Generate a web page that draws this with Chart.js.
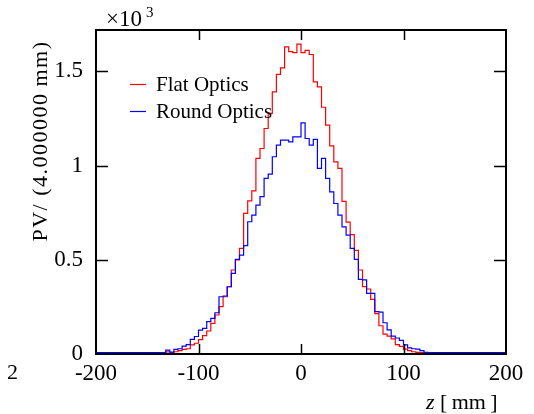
<!DOCTYPE html>
<html><head><meta charset="utf-8">
<script src="https://cdn.jsdelivr.net/npm/chart.js@4"></script>
<style>html,body{margin:0;padding:0;background:#fff}#c{display:block}</style>
</head><body>
<canvas id="c" width="534" height="414"></canvas>
<script>
// Histogram binning (mm)
const binLow = -200;
const binWidth = 4;
// Counts per 4 mm bin, from z = -200 to z = 196 (bin low edges)
const flatOptics = [
  7,7,7,7,7,7,7,7,7,7,7,7,7,7,7,7,7,7,
  11,8,12,18,25,28,48,57,76,98,122,163,207,251,304,357,446,499,561,746,813,866,
  1038,1091,1197,1277,1392,1484,1519,1630,1605,1600,
  1645,1600,1612,1590,1445,1418,1310,1215,1105,1020,985,810,700,634,550,446,
  358,345,290,214,150,105,95,80,50,40,26,18,12,9,7,
  7,7,7,7,7,7,7,7,7,7,7,7,7,7,7,7,7,7,7
];
const roundOptics = [
  7,7,7,7,7,7,7,7,7,7,7,7,7,7,7,7,7,7,
  21,10,25,28,42,50,78,93,127,136,172,189,219,304,308,357,428,502,525,575,702,737,
  790,835,932,955,1047,1109,1135,1135,1126,1153,
  1153,1227,1144,1109,1139,985,1038,932,861,799,737,675,631,561,502,396,
  393,322,322,225,222,166,128,95,85,72,48,32,28,26,18,9,
  7,7,7,7,7,7,7,7,7,7,7,7,7,7,7,7,7,7
];
const seriesNames = ['Flat Optics', 'Round Optics'];
const xTickValues = [-200, -100, 0, 100, 200];
const yTickValues = [0, 500, 1000, 1500];
const yMax = 1720;

function toSteps(vals) {
  const pts = vals.map((v, i) => ({x: binLow + i * binWidth, y: v}));
  pts.push({x: binLow + vals.length * binWidth, y: vals[vals.length - 1]});
  return pts;
}

const SERIF = '"Liberation Serif", "DejaVu Serif", serif';
const RED = '#ff0000', BLUE = '#0000ff';

const decor = {
  id: 'decor',
  afterDatasetsDraw(chart) {
    const {ctx, chartArea: a, scales: {x, y}} = chart;
    ctx.save();
    ctx.strokeStyle = '#000';
    // inward ticks
    ctx.lineWidth = 1.5;
    ctx.beginPath();
    xTickValues.forEach(v => {
      if (v === xTickValues[0] || v === xTickValues[xTickValues.length - 1]) return;
      const px = Math.round(x.getPixelForValue(v)) + 0.5;
      ctx.moveTo(px, a.bottom); ctx.lineTo(px, a.bottom - 10);
      ctx.moveTo(px, a.top); ctx.lineTo(px, a.top + 10);
    });
    yTickValues.forEach(v => {
      if (v === 0) return;
      const py = Math.round(y.getPixelForValue(v)) + 0.5;
      ctx.moveTo(a.left, py); ctx.lineTo(a.left + 12, py);
      ctx.moveTo(a.right, py); ctx.lineTo(a.right - 12, py);
    });
    ctx.stroke();
    // frame
    ctx.lineWidth = 2;
    ctx.strokeRect(a.left, a.top, a.right - a.left, a.bottom - a.top);

    // legend
    ctx.lineWidth = 1.2;
    const leg = [[seriesNames[0], RED, 84], [seriesNames[1], BLUE, 111]];
    ctx.font = '21px ' + SERIF;
    ctx.fillStyle = '#000';
    ctx.textBaseline = 'middle';
    ctx.textAlign = 'left';
    leg.forEach(([name, col, yy]) => {
      ctx.strokeStyle = col;
      ctx.beginPath(); ctx.moveTo(130, yy + 0.5); ctx.lineTo(146, yy + 0.5); ctx.stroke();
      ctx.fillText(name, 156, yy + 1);
    });

    // exponent
    ctx.textBaseline = 'alphabetic';
    ctx.font = '23px ' + SERIF;
    ctx.fillText('\u00d710', 106, 26);
    ctx.font = '15px ' + SERIF;
    ctx.fillText('3', 146, 17);

    // y title
    ctx.save();
    ctx.translate(47, 141);
    ctx.rotate(-Math.PI / 2);
    ctx.font = '22px ' + SERIF;
    ctx.textAlign = 'center';
    ctx.letterSpacing = '1.5px';
    ctx.fillText('PV/ (4.000000\u2009mm)', 0, 0);
    ctx.restore();

    // x title
    ctx.font = 'italic 22px ' + SERIF;
    ctx.textAlign = 'left';
    ctx.fillText('z', 426, 409);
    ctx.font = '22px ' + SERIF;
    ctx.fillText('[\u2009mm\u2009]', 440, 409);

    // stray label at left edge
    ctx.fillText('2', 7, 379);
    ctx.restore();
  }
};

new Chart(document.getElementById('c'), {
  type: 'line',
  data: {
    datasets: [
      {label: seriesNames[0], data: toSteps(flatOptics), borderColor: RED, borderWidth: 1.2,
       stepped: 'after', pointRadius: 0, fill: false, order: 2},
      {label: seriesNames[1], data: toSteps(roundOptics), borderColor: BLUE, borderWidth: 1.2,
       stepped: 'after', pointRadius: 0, fill: false, order: 1}
    ]
  },
  options: {
    responsive: false,
    animation: false,
    layout: {padding: {top: 30, right: 28, left: 0, bottom: 0}},
    plugins: {legend: {display: false}, tooltip: {enabled: false}},
    scales: {
      x: {
        type: 'linear', min: binLow, max: binLow + flatOptics.length * binWidth,
        afterBuildTicks: s => { s.ticks = xTickValues.map(v => ({value: v})); },
        afterFit: s => { s.height = 60; },
        grid: {display: false, drawTicks: false},
        border: {display: false},
        ticks: {font: {family: SERIF, size: 23}, color: '#000', padding: 6, maxRotation: 0,
                callback: v => String(v)}
      },
      y: {
        type: 'linear', min: 0, max: yMax,
        afterBuildTicks: s => { s.ticks = yTickValues.map(v => ({value: v})); },
        afterFit: s => { s.width = 96; },
        grid: {display: false, drawTicks: false},
        border: {display: false},
        ticks: {font: {family: SERIF, size: 23}, color: '#000', padding: 13,
                callback: v => String(v / 1000)}
      }
    }
  },
  plugins: [decor]
});
</script>
</body></html>
